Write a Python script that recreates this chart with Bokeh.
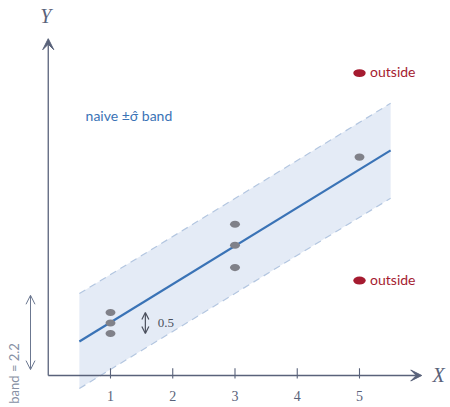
from bokeh.plotting import figure
from bokeh.models import Range1d, Arrow, VeeHead, OpenHead, Label
from bokeh.embed import file_html
from bokeh.resources import INLINE
from bokeh.core.properties import value

# ---- data ----
pts_x = [1, 1, 1, 3, 3, 3, 5]
pts_y = [1.0, 1.25, 1.5, 2.57, 3.1, 3.6, 5.2]
out_x = [5, 5]
out_y = [7.2, 2.26]
out_labels = ["outside", "outside"]
line_x = [0.5, 5.5]
line_y = [0.81, 5.36]
band_upper = [1.95, 6.48]
band_lower = [-0.31, 4.22]
x_ticks = [1, 2, 3, 4, 5]
x_tick_labels = ["1", "2", "3", "4", "5"]
sigma_band = 2.2
spread_label = "0.5"
band_label = "naive ±σ̂ band"

AX = "#59627a"
BLUE = "#3a73b6"
RED = "#a51b30"
GRAY = "#808189"

p = figure(width=450, height=407, output_backend="svg", toolbar_location=None,
           x_range=Range1d(-0.767, 6.462), y_range=Range1d(-0.762, 8.929),
           min_border=0, outline_line_color=None)
p.axis.visible = False
p.grid.visible = False
p.background_fill_color = "white"

# band
p.patch([line_x[0], line_x[1], line_x[1], line_x[0]],
        [band_upper[0], band_upper[1], band_lower[1], band_lower[0]],
        fill_color="#e4ebf6", fill_alpha=1.0, line_color=None)
p.line(line_x, band_upper, line_color="#b3c6e0", line_width=1.2, line_dash="7 5")
p.line(line_x, band_lower, line_color="#b3c6e0", line_width=1.2, line_dash="7 5")

# axes
p.add_layout(Arrow(x_start=0, y_start=0, x_end=6.0, y_end=0, line_color=AX, line_width=1.3,
                   end=VeeHead(size=11, fill_color=AX, line_color=AX)))
p.add_layout(Arrow(x_start=0, y_start=0, x_end=0, y_end=8.02, line_color=AX, line_width=1.3,
                   end=VeeHead(size=11, fill_color=AX, line_color=AX)))
tick_len_up = 0.17
tick_len_dn = 0.07
p.segment(x0=x_ticks, y0=[tick_len_up] * len(x_ticks), x1=x_ticks,
          y1=[-tick_len_dn] * len(x_ticks), line_color=AX, line_width=1.1)
p.text(x=x_ticks, y=[-0.48] * len(x_ticks), text=x_tick_labels, text_align="center",
       text_baseline="middle", text_font=value("Liberation Serif"), text_font_size="14px",
       text_color=AX)
p.add_layout(Label(x=6.27, y=0, text="X", text_align="center", text_baseline="middle",
                   text_font="Liberation Serif", text_font_style="italic",
                   text_font_size="20px", text_color=AX))
p.add_layout(Label(x=-0.04, y=8.57, text="Y", text_align="center", text_baseline="middle",
                   text_font="Liberation Serif", text_font_style="italic",
                   text_font_size="20px", text_color=AX))

# fitted line
p.line(line_x, line_y, line_color=BLUE, line_width=2.2)

# points
p.ellipse(x=pts_x, y=pts_y, width=0.16, height=0.17, fill_color=GRAY, line_color=None)
p.ellipse(x=out_x, y=out_y, width=0.2, height=0.19, fill_color=RED, line_color=None)
p.text(x=[x + 0.17 for x in out_x], y=[y + 0.03 for y in out_y], text=out_labels,
       text_align="left", text_baseline="middle", text_font=value("Lato"),
       text_font_size="14px", text_color=RED)

# band label
p.add_layout(Label(x=0.6, y=6.2, text=band_label, text_align="left", text_baseline="middle",
                   text_font="Lato", text_font_size="14px", text_color=BLUE))

# spread arrow 0.5
arr_x = 1.56
p.add_layout(Arrow(x_start=arr_x, y_start=pts_y[0], x_end=arr_x, y_end=pts_y[2],
                   line_color="#4a4f5c", line_width=1.2,
                   start=OpenHead(size=7, line_color="#4a4f5c", line_width=1.2),
                   end=OpenHead(size=7, line_color="#4a4f5c", line_width=1.2)))
p.add_layout(Label(x=arr_x + 0.2, y=(pts_y[0] + pts_y[2]) / 2, text=spread_label,
                   text_align="left", text_baseline="middle", text_font="Liberation Serif",
                   text_font_size="13px", text_color="#4a4f5c"))

# band bracket
br_x = -0.285
br_bottom = 0.14
p.add_layout(Arrow(x_start=br_x, y_start=br_bottom, x_end=br_x, y_end=band_upper[0] - 0.04,
                   line_color="#6b7790", line_width=1.0,
                   start=OpenHead(size=9, line_color="#6b7790", line_width=1.0),
                   end=OpenHead(size=9, line_color="#6b7790", line_width=1.0)))
p.add_layout(Label(x=-0.55, y=0.05, text=f"band = {sigma_band}", angle=1.5708,
                   text_align="center", text_baseline="middle", text_font="Lato",
                   text_font_size="13px", text_color="#8790a4"))

open("out.html", "w").write(file_html(p, INLINE))
